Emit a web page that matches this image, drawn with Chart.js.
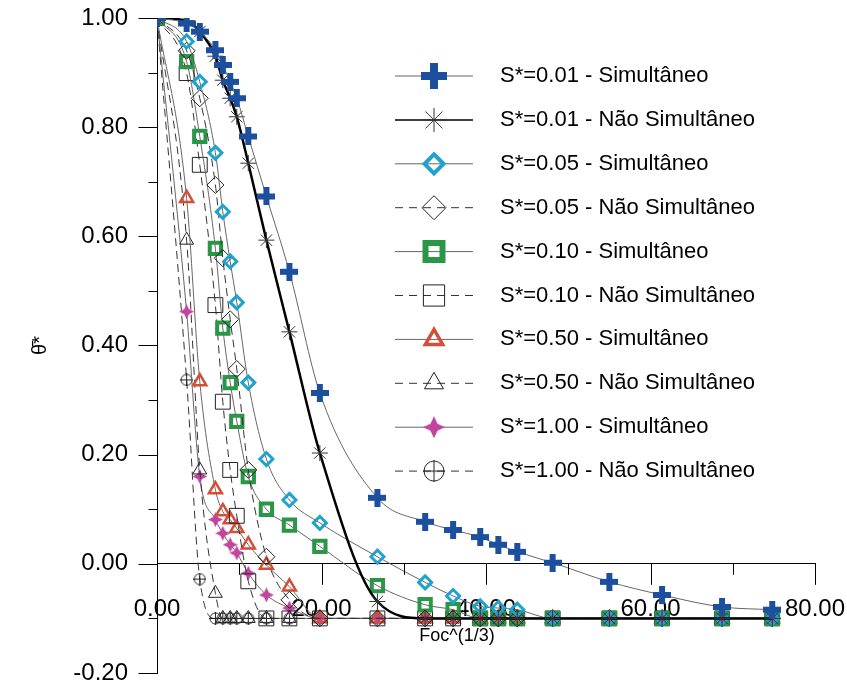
<!DOCTYPE html>
<html>
<head>
<meta charset="utf-8">
<script src="https://cdn.jsdelivr.net/npm/chart.js@4.4.0/dist/chart.umd.min.js"></script>
<style>
  html, body { margin: 0; padding: 0; background: #fff; }
</style>
</head>
<body>
<canvas id="chart" width="847" height="685"></canvas>
<script>
const FONT = '"Liberation Sans", Arial, sans-serif';

// Foc^(1/3) values shared by every series
const focCbrt = [0, 3.6, 5.2, 7.1, 8.0, 8.9, 9.7, 11.1, 13.3, 16.1, 19.8, 26.8, 32.6, 36.0, 39.3, 41.5, 43.8, 48.1, 55.0, 61.4, 68.7, 74.8];

const seriesLabels = [
    'S*=0.01 - Simultâneo', 'S*=0.01 - Não Simultâneo',
    'S*=0.05 - Simultâneo', 'S*=0.05 - Não Simultâneo',
    'S*=0.10 - Simultâneo', 'S*=0.10 - Não Simultâneo',
    'S*=0.50 - Simultâneo', 'S*=0.50 - Não Simultâneo',
    'S*=1.00 - Simultâneo', 'S*=1.00 - Não Simultâneo'
];

const s001Sim = [1.00, 0.990, 0.975, 0.941, 0.914, 0.883, 0.853, 0.783, 0.673, 0.535, 0.313, 0.121, 0.077, 0.062, 0.049, 0.035, 0.022, 0.002, -0.033, -0.057, -0.079, -0.084];
const s001Nao = [1.00, 0.995, 0.975, 0.930, 0.886, 0.853, 0.819, 0.734, 0.593, 0.425, 0.203, -0.069, -0.10, -0.10, -0.10, -0.10, -0.10, -0.10, -0.10, -0.10, -0.10, -0.10];
const s005Sim = [1.00, 0.957, 0.883, 0.753, 0.645, 0.554, 0.479, 0.332, 0.192, 0.117, 0.075, 0.013, -0.034, -0.059, -0.078, -0.081, -0.084, -0.10, -0.10, -0.10, -0.10, -0.10];
const s005Nao = [1.00, 0.940, 0.853, 0.694, 0.560, 0.448, 0.357, 0.172, 0.013, -0.066, -0.10, -0.10, -0.10, -0.10, -0.10, -0.10, -0.10, -0.10, -0.10, -0.10, -0.10, -0.10];
const s010Sim = [1.00, 0.920, 0.783, 0.578, 0.432, 0.332, 0.261, 0.160, 0.100, 0.071, 0.032, -0.040, -0.075, -0.084, -0.10, -0.10, -0.10, -0.10, -0.10, -0.10, -0.10, -0.10];
const s010Nao = [1.00, 0.899, 0.731, 0.474, 0.297, 0.172, 0.088, -0.032, -0.10, -0.10, -0.10, -0.10, -0.10, -0.10, -0.10, -0.10, -0.10, -0.10, -0.10, -0.10, -0.10, -0.10];
const s050Sim = [1.00, 0.670, 0.334, 0.136, 0.096, 0.081, 0.065, 0.035, -0.002, -0.042, -0.10, -0.10, -0.10, -0.10, -0.10, -0.10, -0.10, -0.10, -0.10, -0.10, -0.10, -0.10];
const s050Nao = [1.00, 0.593, 0.172, -0.054, -0.10, -0.10, -0.10, -0.10, -0.10, -0.10, -0.10, -0.10, -0.10, -0.10, -0.10, -0.10, -0.10, -0.10, -0.10, -0.10, -0.10, -0.10];
const s100Sim = [1.00, 0.462, 0.160, 0.081, 0.056, 0.035, 0.020, -0.017, -0.057, -0.081, -0.10, -0.10, -0.10, -0.10, -0.10, -0.10, -0.10, -0.10, -0.10, -0.10, -0.10, -0.10];
const s100Nao = [1.00, 0.337, -0.028, -0.10, -0.10, -0.10, -0.10, -0.10, -0.10, -0.10, -0.10, -0.10, -0.10, -0.10, -0.10, -0.10, -0.10, -0.10, -0.10, -0.10, -0.10, -0.10];

const allSeries = [s001Sim, s001Nao, s005Sim, s005Nao, s010Sim, s010Nao, s050Sim, s050Nao, s100Sim, s100Nao];

// --- custom marker images ---
function makePlus(size, arm, color) {
    const c = document.createElement('canvas');
    c.width = c.height = size;
    const g = c.getContext('2d');
    g.fillStyle = color;
    const a = (size - arm) / 2;
    g.fillRect(a, 0, arm, size);
    g.fillRect(0, a, size, arm);
    return c;
}

function makeStar4(size, color) {
    const c = document.createElement('canvas');
    c.width = c.height = size;
    const g = c.getContext('2d');
    const m = size / 2, k = size * 0.16;
    g.fillStyle = color;
    g.beginPath();
    g.moveTo(m, 0);
    g.lineTo(m + k, m - k);
    g.lineTo(size, m);
    g.lineTo(m + k, m + k);
    g.lineTo(m, size);
    g.lineTo(m - k, m + k);
    g.lineTo(0, m);
    g.lineTo(m - k, m - k);
    g.closePath();
    g.fill();
    return c;
}

function makeCircleCross(size, color) {
    const c = document.createElement('canvas');
    c.width = c.height = size;
    const g = c.getContext('2d');
    const m = size / 2, r = size / 2 - 1;
    g.strokeStyle = color;
    g.lineWidth = 1;
    g.beginPath();
    g.arc(m, m, r, 0, Math.PI * 2);
    g.moveTo(m, 0); g.lineTo(m, size);
    g.moveTo(0, m); g.lineTo(size, m);
    g.stroke();
    return c;
}

const blue = '#1c4f9e', cyan = '#1fa2cc', green = '#2b9548', red = '#d2503a', magenta = '#c2449f';
const solidLine = '#666', dashLine = '#333';

// plot marker styles, then legend marker styles (bigger)
const marks = [
    { style: makePlus(18, 6, blue), r: 8, color: blue, bw: 0 },
    { style: 'star', r: 8, color: '#333', bw: 1 },
    { style: 'rectRot', r: 6.5, color: cyan, bw: 3 },
    { style: 'rectRot', r: 8.5, color: '#222', bw: 1 },
    { style: 'rect', r: 8, color: green, bw: 4 },
    { style: 'rect', r: 10.5, color: '#222', bw: 1 },
    { style: 'triangle', r: 7.5, color: red, bw: 2.5 },
    { style: 'triangle', r: 8, color: '#222', bw: 1 },
    { style: makeStar4(15, magenta), r: 7, color: magenta, bw: 0 },
    { style: makeCircleCross(13, '#222'), r: 6, color: '#222', bw: 1 }
];
const legendMarks = [
    { style: makePlus(26, 8, blue), r: 12, bw: 0 },
    { style: 'star', r: 12, bw: 1 },
    { style: 'rectRot', r: 9.5, bw: 4 },
    { style: 'rectRot', r: 12, bw: 1 },
    { style: 'rect', r: 12, bw: 6 },
    { style: 'rect', r: 15, bw: 1 },
    { style: 'triangle', r: 10, bw: 3.5 },
    { style: 'triangle', r: 11, bw: 1 },
    { style: makeStar4(22, magenta), r: 11, bw: 0 },
    { style: makeCircleCross(22, '#222'), r: 11, bw: 1 }
];

const datasets = allSeries.map((vals, i) => {
    const nao = i % 2 === 1;
    const m = marks[i];
    return {
        label: seriesLabels[i],
        data: focCbrt.map((x, j) => ({ x: x, y: vals[j] })),
        showLine: true,
        cubicInterpolationMode: 'monotone',
        borderColor: i === 1 ? '#000' : (nao ? dashLine : solidLine),
        borderWidth: i === 1 ? 2.5 : 1,
        borderDash: nao && i !== 1 ? [8, 5] : [],
        pointStyle: m.style,
        pointRadius: m.r,
        pointBorderColor: m.color,
        pointBackgroundColor: 'rgba(255,255,255,0)',
        pointBorderWidth: m.bw,
        fill: false
    };
});

// ticks with long major / short minor marks
const axisTicks = {
    id: 'axisTicks',
    afterDraw(chart) {
        const { ctx, scales: { x, y } } = chart;
        const y0 = y.getPixelForValue(0);
        ctx.save();
        ctx.strokeStyle = '#000';
        ctx.lineWidth = 1;
        ctx.beginPath();
        for (let v = 10; v <= 80; v += 10) {
            const px = Math.round(x.getPixelForValue(v)) + 0.5;
            ctx.moveTo(px, y0);
            ctx.lineTo(px, y0 + (v % 20 === 0 ? 21 : 11));
        }
        const left = Math.round(x.left) + 0.5;
        for (let k = -2; k <= 10; k++) {
            const py = Math.round(y.getPixelForValue(k / 10)) + 0.5;
            ctx.moveTo(left, py);
            ctx.lineTo(left - (k % 2 === 0 ? 19 : 9), py);
        }
        ctx.stroke();

        ctx.fillStyle = '#000';
        ctx.font = '18px ' + FONT;
        ctx.textAlign = 'center';
        ctx.textBaseline = 'middle';
        ctx.fillText('Foc^(1/3)', 457, 636);
        ctx.restore();
    }
};

// line + marker legend block on the right
const sideLegend = {
    id: 'sideLegend',
    afterDraw(chart) {
        const ctx = chart.ctx;
        chart.data.datasets.forEach((d, i) => {
            const yy = 76 + i * 43.9;
            const lm = legendMarks[i];
            ctx.save();
            ctx.strokeStyle = i === 1 ? '#000' : (i % 2 ? dashLine : solidLine);
            ctx.lineWidth = i === 1 ? 1.5 : 1;
            ctx.setLineDash(i % 2 && i !== 1 ? [8, 6] : []);
            ctx.beginPath();
            ctx.moveTo(395, yy);
            ctx.lineTo(473, yy);
            ctx.stroke();
            ctx.setLineDash([]);
            if (typeof lm.style === 'string') {
                ctx.strokeStyle = marks[i].color;
                ctx.fillStyle = 'rgba(255,255,255,0)';
                ctx.lineWidth = lm.bw;
                Chart.helpers.drawPoint(ctx, { pointStyle: lm.style, radius: lm.r, rotation: 0, borderWidth: lm.bw }, 434, yy);
            } else {
                ctx.drawImage(lm.style, 434 - lm.style.width / 2, yy - lm.style.height / 2);
            }
            ctx.fillStyle = '#000';
            ctx.font = '22px ' + FONT;
            ctx.textAlign = 'left';
            ctx.textBaseline = 'middle';
            ctx.fillText(d.label, 500, yy);
            ctx.restore();
        });
    }
};

const fmt = v => (Math.abs(v) < 1e-9 ? 0 : v).toFixed(2);

new Chart(document.getElementById('chart'), {
    type: 'scatter',
    data: { datasets: datasets },
    options: {
        responsive: false,
        animation: false,
        layout: { padding: { left: 0, right: 32, top: 18, bottom: 12 } },
        plugins: { legend: { display: false }, tooltip: { enabled: false } },
        scales: {
            x: {
                type: 'linear', min: 0, max: 80,
                position: { y: 0 },
                ticks: {
                    stepSize: 10, autoSkip: false, maxRotation: 0, padding: 0,
                    color: '#000', font: { family: FONT, size: 24 },
                    callback: v => (v % 20 === 0 ? fmt(v) : '')
                },
                grid: { drawOnChartArea: false, tickLength: 31, tickColor: 'rgba(0,0,0,0)' },
                border: { color: '#000', width: 1 }
            },
            y: {
                min: -0.2, max: 1.0,
                position: 'left',
                afterFit: s => { s.width = 157; },
                ticks: {
                    stepSize: 0.1, autoSkip: false, padding: 0,
                    color: '#000', font: { family: FONT, size: 24, lineHeight: 0.9 },
                    callback: v => (Math.round(v * 10) % 2 === 0 ? fmt(v) : '')
                },
                grid: { drawOnChartArea: false, tickLength: 29, tickColor: 'rgba(0,0,0,0)' },
                border: { color: '#000', width: 1 },
                title: {
                    display: true, text: 'θ\u0304*', color: '#000',
                    font: { family: FONT, size: 20 },
                    padding: { top: 28, bottom: 0 }
                }
            }
        }
    },
    plugins: [axisTicks, sideLegend]
});
</script>
</body>
</html>
